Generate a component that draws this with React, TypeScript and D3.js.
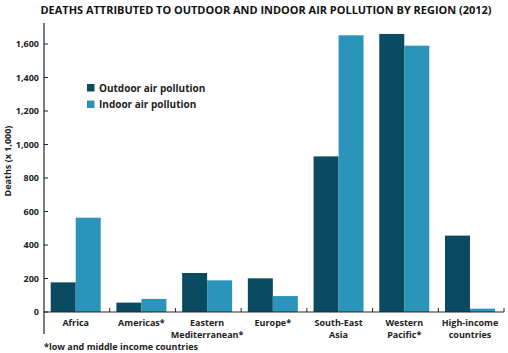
import React, { useRef, useEffect } from 'react';
import * as d3 from 'd3';

const regions = [
  ['Africa'],
  ['Americas*'],
  ['Eastern', 'Mediterranean*'],
  ['Europe*'],
  ['South-East', 'Asia'],
  ['Western', 'Pacific*'],
  ['High-income', 'countries'],
];
const outdoor = [177, 56, 233, 201, 929, 1660, 456];
const indoor = [563, 78, 189, 95, 1652, 1590, 20];
const seriesNames = ['Outdoor air pollution', 'Indoor air pollution'];
const yTicks = [0, 200, 400, 600, 800, 1000, 1200, 1400, 1600];

const FONT = '"Open Sans", Lato, sans-serif';

const App = () => {
  const svgRef = useRef<SVGSVGElement>(null);

  useEffect(() => {
    const width = 508;
    const height = 353;
    const svg = d3.select(svgRef.current);
    svg.selectAll('*').remove();

    const keys = regions.map((r) => r.join(' '));
    const x0 = d3.scaleBand().domain(keys).range([44, 504]).padding(0);
    const x1 = d3.scaleBand().domain(seriesNames).range([6.7, 56.7]).padding(0);
    const y = d3.scaleLinear().domain([0, 1600]).range([312, 44]);
    const colors = d3.scaleOrdinal<string>().domain(seriesNames).range(['#0b4b62', '#2b94ba']);

    // title
    svg
      .append('text')
      .attr('x', 266)
      .attr('y', 14)
      .attr('text-anchor', 'middle')
      .attr('font-family', FONT)
      .attr('font-weight', 'bold')
      .attr('font-size', 11)
      .attr('textLength', 451)
      .attr('lengthAdjust', 'spacingAndGlyphs')
      .attr('fill', '#111')
      .text('DEATHS ATTRIBUTED TO OUTDOOR AND INDOOR AIR POLLUTION BY REGION (2012)');

    // bars
    const groups = svg
      .append('g')
      .selectAll('g')
      .data(keys)
      .enter()
      .append('g')
      .attr('transform', (d) => `translate(${x0(d)},0)`);

    groups
      .selectAll('rect')
      .data((_d, i) => [
        { key: seriesNames[0], value: outdoor[i] },
        { key: seriesNames[1], value: indoor[i] },
      ])
      .enter()
      .append('rect')
      .attr('x', (d) => x1(d.key)!)
      .attr('width', x1.bandwidth())
      .attr('y', (d) => y(d.value))
      .attr('height', (d) => y(0) - y(d.value))
      .attr('fill', (d) => colors(d.key));

    // y axis
    const yAxis = svg.append('g').attr('font-family', FONT);
    yAxis
      .append('line')
      .attr('x1', 44)
      .attr('x2', 44)
      .attr('y1', 23)
      .attr('y2', 334)
      .attr('stroke', '#222')
      .attr('stroke-width', 1.2);
    const fmt = d3.format(',');
    const yt = yAxis.selectAll('g.tick').data(yTicks).enter().append('g');
    yt.append('line')
      .attr('x1', 44)
      .attr('x2', 48)
      .attr('y1', (d) => y(d))
      .attr('y2', (d) => y(d))
      .attr('stroke', '#222');
    yt.append('text')
      .attr('x', 39)
      .attr('y', (d) => y(d) + 3.2)
      .attr('text-anchor', 'end')
      .attr('font-size', 9)
      .attr('font-weight', 'bold')
      .attr('fill', '#222')
      .text((d) => fmt(d));

    svg
      .append('text')
      .attr('transform', 'translate(11,161) rotate(-90)')
      .attr('text-anchor', 'middle')
      .attr('font-family', FONT)
      .attr('font-size', 9)
      .attr('font-weight', 'bold')
      .attr('fill', '#222')
      .text('Deaths (x 1,000)');

    // x axis
    const xAxis = svg.append('g').attr('font-family', FONT);
    xAxis
      .append('line')
      .attr('x1', 44)
      .attr('x2', 504)
      .attr('y1', y(0))
      .attr('y2', y(0))
      .attr('stroke', '#222')
      .attr('stroke-width', 1.2);
    xAxis
      .selectAll('line.tick')
      .data(keys.slice(1).concat(['end']))
      .enter()
      .append('line')
      .attr('x1', (d) => (d === 'end' ? 504 : x0(d)!))
      .attr('x2', (d) => (d === 'end' ? 504 : x0(d)!))
      .attr('y1', y(0))
      .attr('y2', y(0) - 4)
      .attr('stroke', '#222');
    const labels = xAxis
      .selectAll('text.cat')
      .data(regions)
      .enter()
      .append('text')
      .attr('text-anchor', 'middle')
      .attr('font-size', 9)
      .attr('font-weight', 'bold')
      .attr('fill', '#222');
    labels
      .selectAll('tspan')
      .data((d) => d.map((line, i) => ({ line, i, key: d.join(' ') })))
      .enter()
      .append('tspan')
      .attr('x', (d) => x0(d.key)! + 31.7)
      .attr('y', (d) => 325.5 + d.i * 12)
      .text((d) => d.line);

    svg
      .append('text')
      .attr('x', 44)
      .attr('y', 350)
      .attr('font-family', FONT)
      .attr('font-size', 9)
      .attr('font-weight', 'bold')
      .attr('fill', '#222')
      .text('*low and middle income countries');

    // legend
    const legend = svg
      .append('g')
      .selectAll('g')
      .data(seriesNames)
      .enter()
      .append('g')
      .attr('transform', (_d, i) => `translate(87,${84 + i * 16.5})`);
    legend
      .append('rect')
      .attr('width', 7.5)
      .attr('height', 7.5)
      .attr('fill', (d) => colors(d));
    legend
      .append('text')
      .attr('x', 12)
      .attr('y', 7.5)
      .attr('font-family', FONT)
      .attr('font-size', 10)
      .attr('font-weight', 'bold')
      .attr('fill', '#222')
      .text((d) => d);

    svg.attr('width', width).attr('height', height);
  }, []);

  return (
    <div style={{ position: 'absolute', left: 0, top: 0 }}>
      <svg ref={svgRef} width={508} height={353} style={{ display: 'block', background: '#fff' }}></svg>
    </div>
  );
};

export default App;
